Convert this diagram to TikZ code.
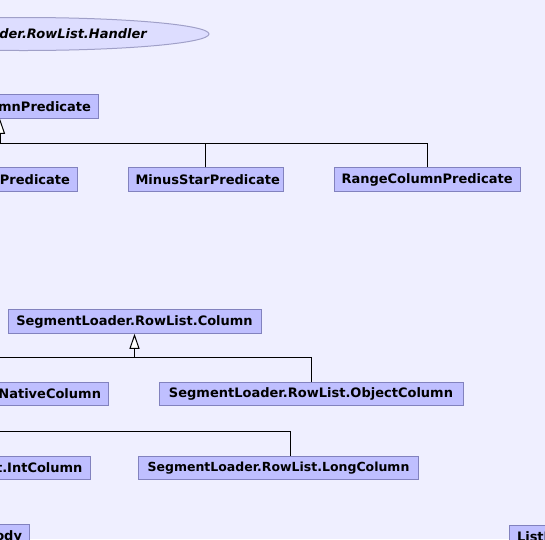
\documentclass[tikz,border=0pt]{standalone}
\usepackage{fontspec}
\setmainfont{DejaVu Sans}
\usepackage{tikz}
\usetikzlibrary{shapes.geometric, arrows.meta, positioning, calc}
\definecolor{bgcol}{RGB}{239, 239, 255}
\definecolor{boxfill}{RGB}{191, 191, 255}
\definecolor{boxline}{RGB}{130, 130, 190}
\definecolor{ellfill}{RGB}{221, 221, 255}
\definecolor{ellline}{RGB}{160, 160, 200}

\tikzset{
    classbox/.style={draw=boxline, fill=boxfill, line width=1pt, inner xsep=7.5pt, inner ysep=0pt,
        minimum height=23.5pt, font=\fontsize{13}{15}\selectfont\bfseries},
    fixedbox/.style={classbox, text width=#1, align=center},
    cutleft/.style={classbox, anchor=east, text width=#1, align=right},
    cutright/.style={classbox, anchor=west, text width=#1, align=left},
    handler/.style={ellipse, draw=ellline, fill=ellfill, line width=1pt},
    link/.style={draw=black, line width=1pt},
    inherit/.style={link, -{Triangle[length=15pt, width=10pt, fill=white]}}
}

\begin{document}
\begin{tikzpicture}[x=1pt, y=-1pt]
    % Canvas
    \useasboundingbox (0,0) rectangle (545,539);
    \fill[bgcol] (0,0) rectangle (545,539);
    \clip (0,0) rectangle (545,539);

    % Handler (cut on the left)
    \node[handler, minimum width=371pt, minimum height=33pt] (handler) at (23.5,34) {};
    \node[anchor=east, inner sep=0pt, font=\fontsize{13}{15}\selectfont\bfseries\itshape] (handlertext) at (147,34) {der.RowList.Handler};

    % Predicates
    \node[cutleft=200pt] (colpred) at (99,106.5) {mnPredicate};
    \node[cutleft=200pt] (starpred) at (78,179.5) {rPredicate};
    \node[fixedbox=140pt] (minuspred) at (205.5,179.5) {MinusStarPredicate};
    \node[fixedbox=171pt] (rangepred) at (427,179.5) {RangeColumnPredicate};

    \coordinate (predbus) at (0,143);
    \coordinate (predbusend) at (-10,143);
    \draw[inherit] (predbus) -- (predbus |- colpred.south);
    \draw[link] (predbusend) -- (predbus -| rangepred.north) -- (rangepred.north);
    \draw[link] (minuspred.north) -- (minuspred.north |- predbus);

    % Columns
    \node[fixedbox=238pt] (column) at (134.5,321.5) {SegmentLoader.RowList.Column};
    \node[cutleft=200pt] (nativecol) at (109,394) {NativeColumn};
    \node[fixedbox=289pt] (objectcol) at (311,394) {SegmentLoader.RowList.ObjectColumn};

    \coordinate (colbus) at (134.5,357);
    \coordinate (colbusend) at (-10,357);
    \draw[inherit] (colbus) -- (column.south);
    \draw[link] (colbusend) -- (colbus -| objectcol.north) -- (objectcol.north);

    % Native columns
    \node[cutleft=200pt] (intcol) at (90.5,468) {st.IntColumn};
    \node[fixedbox=265.5pt, font=\fontsize{12.5}{15}\selectfont\bfseries] (longcol) at (278.5,468) {SegmentLoader.RowList.LongColumn};

    \coordinate (intbus) at (290,431);
    \coordinate (intbusend) at (-10,431);
    \draw[link] (intbusend) -- (intbus) -- (intbus |- longcol.north);

    % Bottom row (cut)
    \node[cutleft=200pt] (bodynode) at (30,536.5) {ody};
    \node[cutright=200pt] (listnode) at (509,537) {ListR};
\end{tikzpicture}
\end{document}
